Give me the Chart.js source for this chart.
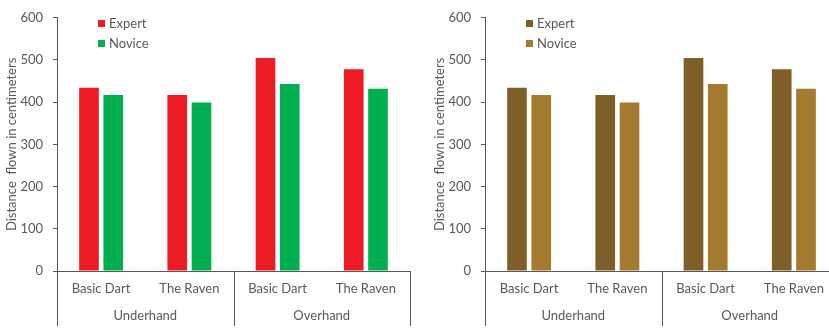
<!DOCTYPE html>
<html>
<head>
<meta charset="utf-8">
<script src="https://cdn.jsdelivr.net/npm/chart.js@4.4.1/dist/chart.umd.min.js"></script>
<style>
  html, body { margin: 0; padding: 0; background: #fff; overflow: hidden; width: 829px; height: 329px; }
  .panel { position: absolute; top: 0; width: 415px; height: 329px; }
  #leftPanel { left: 0; }
  #rightPanel { left: 428px; }
</style>
</head>
<body>
<div class="panel" id="leftPanel"><canvas id="chartLeft" width="415" height="329"></canvas></div>
<div class="panel" id="rightPanel"><canvas id="chartRight" width="415" height="329"></canvas></div>
<script>
// Paper-plane flight distances (cm) by design and throwing style
const categories = ['Basic Dart', 'The Raven', 'Basic Dart', 'The Raven'];
const groups = ['Underhand', 'Overhand'];
const groupSpans = [[0, 1], [2, 3]];
const expert = [434, 417, 505, 478];
const novice = [417, 399, 443, 432];
const yTicks = [0, 100, 200, 300, 400, 500, 600];

const textColor = '#595959';
const lineColor = '#595959';
const fontFamily = 'Lato, "Open Sans", sans-serif';

// Second-level category labels with separators running below the axis
const groupAxisPlugin = {
  id: 'groupAxis',
  afterDraw(chart) {
    const ctx = chart.ctx;
    const x = chart.scales.x;
    const area = chart.chartArea;
    const half = (x.getPixelForValue(1) - x.getPixelForValue(0)) / 2;
    const bottom = chart.height - 3;
    ctx.save();
    ctx.strokeStyle = lineColor;
    ctx.lineWidth = 1;
    const edges = new Set();
    groupSpans.forEach(([s, e]) => {
      edges.add(Math.round(x.getPixelForValue(s) - half) + 0.5);
      edges.add(Math.round(x.getPixelForValue(e) + half) + 0.5);
    });
    edges.forEach(px => {
      ctx.beginPath();
      ctx.moveTo(px, area.bottom);
      ctx.lineTo(px, bottom);
      ctx.stroke();
    });
    ctx.fillStyle = textColor;
    ctx.font = '13px ' + fontFamily;
    ctx.textAlign = 'center';
    ctx.textBaseline = 'middle';
    groups.forEach((g, i) => {
      const [s, e] = groupSpans[i];
      const cx = (x.getPixelForValue(s) + x.getPixelForValue(e)) / 2;
      ctx.fillText(g, cx, 316);
    });
    ctx.restore();
  }
};

// Legend drawn inside the plot area, top left
const insideLegendPlugin = {
  id: 'insideLegend',
  afterDraw(chart) {
    const ctx = chart.ctx;
    const area = chart.chartArea;
    const x0 = area.left + 41;
    let y0 = 20;
    ctx.save();
    ctx.font = '13px ' + fontFamily;
    ctx.textBaseline = 'middle';
    ctx.textAlign = 'left';
    chart.data.datasets.forEach(ds => {
      ctx.fillStyle = ds.backgroundColor;
      ctx.fillRect(x0, y0, 7, 7);
      ctx.fillStyle = textColor;
      ctx.fillText(ds.label, x0 + 11, y0 + 3.5);
      y0 += 20;
    });
    ctx.restore();
  }
};

function makeChart(id, colors) {
  return new Chart(document.getElementById(id), {
    type: 'bar',
    data: {
      labels: categories,
      datasets: [
        { label: 'Expert', data: expert, backgroundColor: colors[0] },
        { label: 'Novice', data: novice, backgroundColor: colors[1] }
      ]
    },
    options: {
      responsive: false,
      animation: false,
      devicePixelRatio: 1,
      layout: { padding: { top: 13, right: 5, bottom: 0, left: 0 } },
      categoryPercentage: 0.55,
      barPercentage: 0.81,
      plugins: { legend: { display: false }, tooltip: { enabled: false } },
      scales: {
        x: {
          type: 'category',
          grid: { display: false, drawTicks: false },
          border: { display: true, color: lineColor, width: 1 },
          ticks: { color: textColor, font: { family: fontFamily, size: 13 }, padding: 10, maxRotation: 0, autoSkip: false },
          afterFit(scale) { scale.height = 58; }
        },
        y: {
          min: 0,
          max: 600,
          afterBuildTicks(scale) { scale.ticks = yTicks.map(v => ({ value: v })); },
          grid: { drawOnChartArea: false, drawTicks: true, tickLength: 4, color: lineColor },
          border: { display: true, color: lineColor, width: 1 },
          ticks: { color: textColor, font: { family: fontFamily, size: 13 }, padding: 10 },
          title: { display: true, text: 'Distance  flown in centimeters', color: textColor, font: { family: fontFamily, size: 13 }, padding: { top: 4, bottom: 4 } },
          afterFit(scale) { scale.width = 57; }
        }
      }
    },
    plugins: [groupAxisPlugin, insideLegendPlugin]
  });
}

makeChart('chartLeft', ['#ED1C24', '#00B050']);
makeChart('chartRight', ['#7F5F28', '#A47B2E']);
</script>
</body>
</html>
